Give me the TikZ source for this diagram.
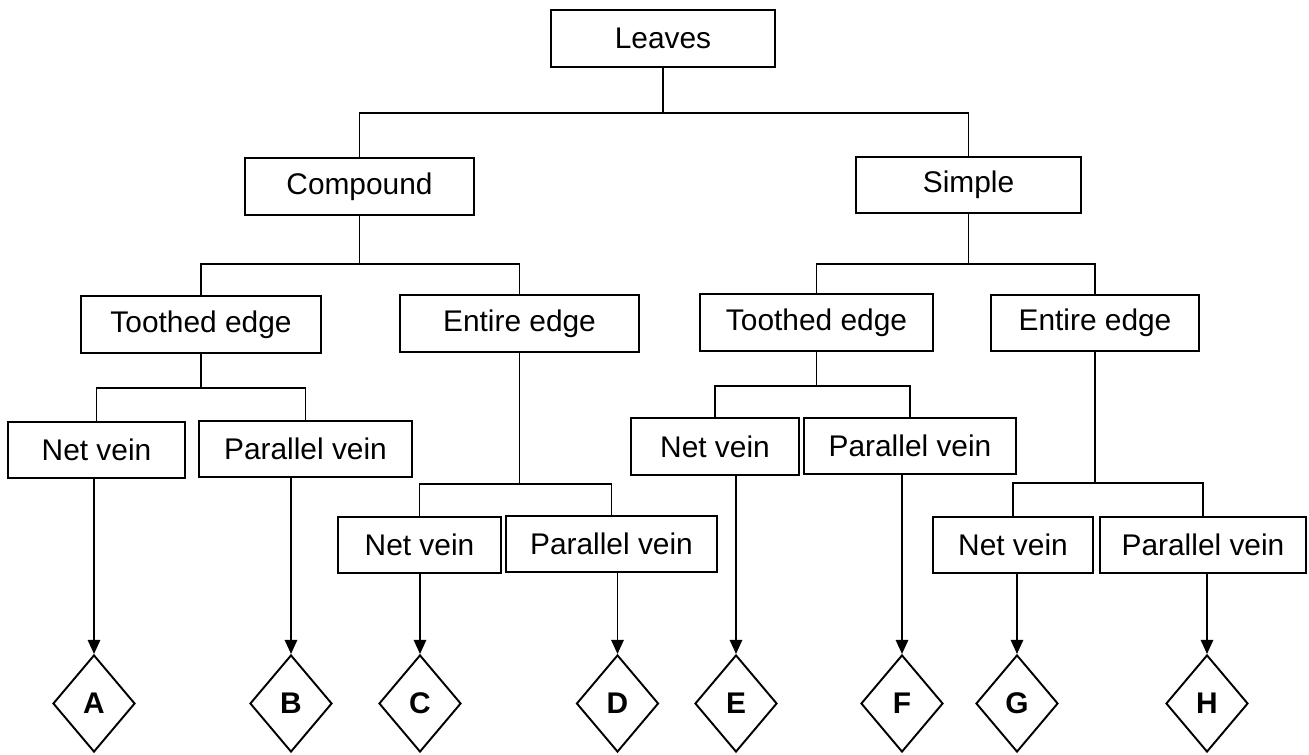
\documentclass[tikz,border=0pt]{standalone}
\usepackage{fontspec}
\setmainfont{Liberation Sans}
\usepackage{tikz}
\usetikzlibrary{arrows.meta,shapes.geometric}

\begin{document}
\begin{tikzpicture}[
  font=\fontsize{17}{20}\selectfont,
  every node/.style={align=center},
  box/.style={rectangle, draw=black, line width=1.1pt, minimum height=1.13cm, inner sep=2pt, fill=white},
  key/.style={diamond, draw=black, line width=1.1pt, minimum width=1.64cm, minimum height=1.94cm, inner sep=0pt, fill=white, font=\fontsize{17}{19}\selectfont\bfseries},
  link/.style={line width=1.1pt, black},
  arrow/.style={-{Triangle[length=8pt,width=7pt]}, line width=1.1pt, black}
]
  \useasboundingbox (0,0) rectangle (26.18,15.10);

  \node[box, minimum width=4.48cm] (leaves) at (13.26,14.33) {Leaves};
  \node[box, minimum width=4.58cm] (compound) at (7.19,11.37) {Compound};
  \node[box, minimum width=4.50cm] (simple) at (19.37,11.40) {Simple};

  \node[box, minimum width=4.80cm] (toothed-l) at (4.02,8.61) {Toothed edge};
  \node[box, minimum width=4.78cm] (entire-l) at (10.39,8.63) {Entire edge};
  \node[box, minimum width=4.66cm] (toothed-r) at (16.33,8.65) {Toothed edge};
  \node[box, minimum width=4.16cm] (entire-r) at (21.90,8.64) {Entire edge};

  \node[box, minimum width=3.54cm] (net-a) at (1.93,6.10) {Net vein};
  \node[box, minimum width=4.26cm] (par-b) at (6.11,6.12) {Parallel vein};
  \node[box, minimum width=3.26cm] (net-c) at (8.39,4.20) {Net vein};
  \node[box, minimum width=4.22cm] (par-d) at (12.23,4.22) {Parallel vein};
  \node[box, minimum width=3.36cm] (net-e) at (14.30,6.17) {Net vein};
  \node[box, minimum width=4.24cm] (par-f) at (18.20,6.18) {Parallel vein};
  \node[box, minimum width=3.20cm] (net-g) at (20.26,4.20) {Net vein};
  \node[box, minimum width=4.12cm] (par-h) at (24.06,4.20) {Parallel vein};

  \foreach \name/\x in {A/1.88, B/5.82, C/8.40, D/12.35, E/14.72, F/18.04, G/20.34, H/24.14}
    \node[key] (key-\name) at (\x,1.03) {\name};

  \draw[link] (leaves.south) -- ++(0,-0.90) coordinate (j-top);
  \draw[link] (compound.north) |- (j-top) -| (simple.north);

  \draw[link] (compound.south) -- ++(0,-0.96) coordinate (j-comp);
  \draw[link] (toothed-l.north) |- (j-comp) -| (entire-l.north);
  \draw[link] (simple.south) -- ++(0,-1.00) coordinate (j-simp);
  \draw[link] (toothed-r.north) |- (j-simp) -| (entire-r.north);

  \draw[link] (toothed-l.south) -- ++(0,-0.68) coordinate (j-tl);
  \draw[link] (net-a.north) |- (j-tl) -| (par-b.north);
  \draw[link] (entire-l.south) -- ++(0,-2.62) coordinate (j-el);
  \draw[link] (net-c.north) |- (j-el) -| (par-d.north);
  \draw[link] (toothed-r.south) -- ++(0,-0.68) coordinate (j-tr);
  \draw[link] (net-e.north) |- (j-tr) -| (par-f.north);
  \draw[link] (entire-r.south) -- ++(0,-2.62) coordinate (j-er);
  \draw[link] (net-g.north) |- (j-er) -| (par-h.north);

  \foreach \src/\dst in {net-a/A, par-b/B, net-c/C, par-d/D, net-e/E, par-f/F, net-g/G, par-h/H}
    \draw[arrow] (key-\dst.north |- \src.south) -- (key-\dst.north);
\end{tikzpicture}
\end{document}
